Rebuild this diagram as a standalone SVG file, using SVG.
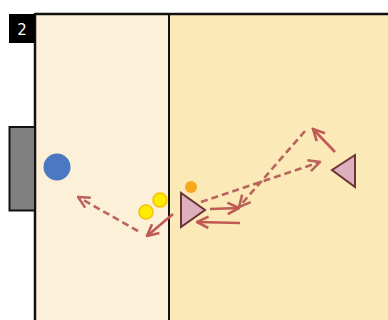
<svg xmlns="http://www.w3.org/2000/svg" width="388" height="320" viewBox="0 0 388 320">
<defs>
<style>
.ln{fill:none;stroke:#C05A55;stroke-width:2.6}
.dash{stroke-dasharray:7 4;stroke:#B9645C}
.tri{fill:#DDB0BD;stroke:#6B3436;stroke-width:2}
</style>
<marker id="ahs" viewBox="0 0 10 10" refX="9" refY="5" markerWidth="5.5" markerHeight="5.5" orient="auto" markerUnits="strokeWidth">
<polyline points="1,1 9,5 1,9" fill="none" stroke="#C05A55" stroke-width="1.8"/>
</marker>
<marker id="ahd" viewBox="0 0 10 10" refX="9" refY="5" markerWidth="5.5" markerHeight="5.5" orient="auto" markerUnits="strokeWidth">
<polyline points="1,1 9,5 1,9" fill="none" stroke="#B9645C" stroke-width="1.8"/>
</marker>
</defs>
<rect width="388" height="320" fill="#ffffff"/>
<g id="field">
<rect x="35" y="14" width="134" height="306" fill="#FDF0D8"/>
<rect x="169" y="14" width="219" height="306" fill="#FBE9B8"/>
<line x1="35" y1="14" x2="388" y2="14" stroke="#111" stroke-width="2.5"/>
<line x1="35" y1="13" x2="35" y2="320" stroke="#111" stroke-width="2.5"/>
<line x1="169" y1="14" x2="169" y2="320" stroke="#111" stroke-width="2"/>
</g>
<g id="label">
<rect x="9" y="14" width="26" height="29" fill="#000"/>
<text x="22" y="35" font-family="DejaVu Sans, sans-serif" font-size="15" fill="#fff" text-anchor="middle">2</text>
</g>
<g id="goal"><rect x="9.5" y="127" width="25.5" height="83.5" fill="#808080" stroke="#111" stroke-width="2"/></g>
<g id="keeper"><circle cx="57" cy="167" r="13.5" fill="#4A78C2"/></g>
<g id="ball1"><circle cx="146" cy="212" r="7" fill="#FFEB00" stroke="#F2C200" stroke-width="1.5"/></g>
<g id="ball2"><circle cx="160" cy="200" r="7" fill="#FFEB00" stroke="#F2C200" stroke-width="1.5"/></g>
<g id="ball3"><circle cx="191" cy="187" r="6" fill="#F7A81B"/></g>
<g id="player1"><polygon class="tri" points="181,193 181,227 205,210"/></g>
<g id="player2"><polygon class="tri" points="355,155 355,187 332,170"/></g>
<g id="connectors">
<line class="ln dash" x1="138" y1="231" x2="78" y2="197" marker-end="url(#ahd)"/>
<line class="ln" x1="173" y1="214" x2="147" y2="236" marker-end="url(#ahs)"/>
<line class="ln dash" x1="201" y1="202" x2="320" y2="162" marker-end="url(#ahd)"/>
<line class="ln dash" x1="305" y1="131" x2="239" y2="207" marker-end="url(#ahd)"/>
<line class="ln" x1="210" y1="209" x2="239" y2="208" marker-end="url(#ahs)"/>
<line class="ln" x1="240" y1="223" x2="197" y2="222" marker-end="url(#ahs)"/>
<line class="ln" x1="335" y1="152" x2="313" y2="129" marker-end="url(#ahs)"/>
</g>
</svg>
